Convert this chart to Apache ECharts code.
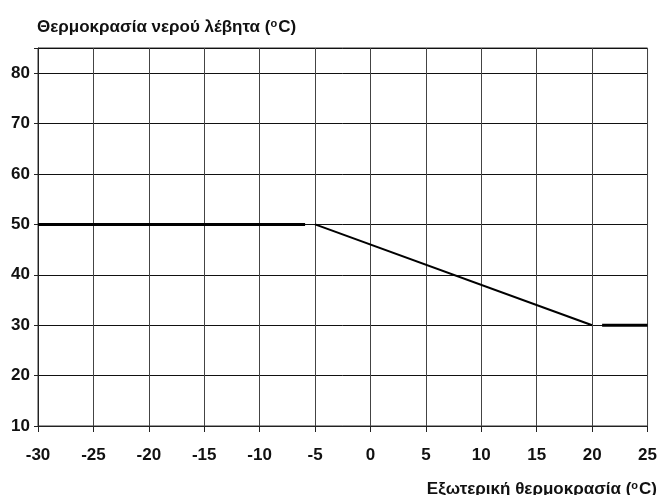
<!DOCTYPE html>
<html><head><meta charset="utf-8">
<script src="https://cdn.jsdelivr.net/npm/echarts@6/dist/echarts.min.js"></script>
<style>html,body{margin:0;padding:0;background:#fff}#c{width:660px;height:495px}</style>
</head><body><div id="c"></div>
<script>
const xTicks = [-30, -25, -20, -15, -10, -5, 0, 5, 10, 15, 20, 25];
const yTicks = [10, 20, 30, 40, 50, 60, 70, 80];
const lowFlat = [[-30, 50], [-5.9, 50]];
const slope = [[-5, 50], [20, 30]];
const highFlat = [[20.9, 30], [25, 30]];
const yTitle = 'Θερμοκρασία νερού λέβητα (';
const xTitle = 'Εξωτερική θερμοκρασία (';

const font = '"Liberation Sans", Arial, sans-serif';
const chart = echarts.init(document.getElementById('c'), null, {renderer: 'canvas'});
const lineS = (data, w) => ({
  type: 'line', data, symbol: 'none', silent: true, animation: false,
  lineStyle: {color: '#000', width: w}
});
const titleStyle = {fontFamily: font, fontSize: 17, fontWeight: 'bold', color: '#111',
  rich: {s: {fontSize: 11, fontWeight: 'bold', verticalAlign: 'top', padding: [0, 1, 7, 0], fontFamily: font, color: '#111'}}};
chart.setOption({
  animation: false,
  title: [
    {text: yTitle + '{s|o}C)', left: 37, top: 18, padding: 0, textStyle: titleStyle},
    {text: xTitle + '{s|o}C)', right: 3, top: 480, padding: 0, textStyle: titleStyle}
  ],
  grid: {left: 38, right: 8, top: 48, bottom: 69, show: true, borderColor: '#333', borderWidth: 1},
  xAxis: {
    type: 'value', min: xTicks[0], max: xTicks[xTicks.length - 1], interval: 5,
    axisLine: {show: true, onZero: false, lineStyle: {color: '#222', width: 1}},
    axisTick: {show: true, inside: false, length: 6, lineStyle: {color: '#222'}},
    splitLine: {show: true, lineStyle: {color: '#444', width: 1}},
    axisLabel: {fontFamily: font, fontSize: 17, fontWeight: 'bold', color: '#111', margin: 21}
  },
  yAxis: {
    type: 'value', min: yTicks[0], max: 85, interval: 10,
    axisLine: {show: true, onZero: false, lineStyle: {color: '#222', width: 1}},
    axisTick: {show: true, inside: false, length: 4, lineStyle: {color: '#222'}},
    splitLine: {show: true, lineStyle: {color: '#111', width: 1}},
    axisLabel: {fontFamily: font, fontSize: 17, fontWeight: 'bold', color: '#111', margin: 8,
      formatter: v => yTicks.includes(v) ? String(v) : ''}
  },
  series: [lineS(lowFlat, 3), lineS(slope, 2), lineS(highFlat, 3)]
});
</script></body></html>
